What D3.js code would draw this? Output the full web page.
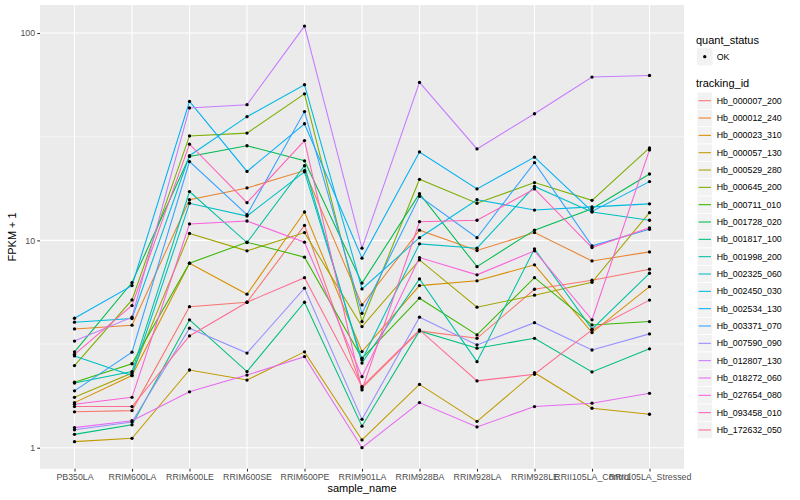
<!DOCTYPE html>
<html>
<head>
<meta charset="utf-8">
<script src="https://cdn.jsdelivr.net/npm/d3@7"></script>
<style>
  body { margin: 0; background: #fff; }
  text { font-family: "Liberation Sans", Arial, sans-serif; }
</style>
</head>
<body>
<div id="chart"></div>
<script>
// categories on the x axis
var samples = ["PB350LA", "RRIM600LA", "RRIM600LE", "RRIM600SE", "RRIM600PE", "RRIM901LA",
               "RRIM928BA", "RRIM928LA", "RRIM928LE", "RRII105LA_Control", "RRII105LA_Stressed"];

var trackingIds = ["Hb_000007_200", "Hb_000012_240", "Hb_000023_310", "Hb_000057_130", "Hb_000529_280",
                   "Hb_000645_200", "Hb_000711_010", "Hb_001728_020", "Hb_001817_100", "Hb_001998_200",
                   "Hb_002325_060", "Hb_002450_030", "Hb_002534_130", "Hb_003371_070", "Hb_007590_090",
                   "Hb_012807_130", "Hb_018272_060", "Hb_027654_080", "Hb_093458_010", "Hb_172632_050"];

// FPKM + 1, one value per sample
var hb_000007_200 = [1.49, 1.51, 4.79, 5.03, 11.8, 1.94, 3.66, 3.37, 5.81, 6.42, 7.26];
var hb_000012_240 = [3.74, 3.90, 15.7, 17.9, 21.7, 4.88, 11.2, 8.93, 10.9, 7.96, 8.80];
var hb_000023_310 = [1.65, 2.23, 7.76, 5.50, 13.7, 2.91, 6.05, 6.38, 7.62, 3.59, 5.98];
var hb_000057_130 = [1.07, 1.11, 2.37, 2.12, 2.90, 1.09, 2.02, 1.34, 2.30, 1.55, 1.45];
var hb_000529_280 = [1.75, 2.29, 10.8, 8.90, 10.9, 3.84, 8.05, 4.76, 5.44, 6.28, 13.6];
var hb_000645_200 = [2.49, 5.16, 31.9, 32.9, 50.9, 4.06, 19.7, 15.1, 19.0, 15.6, 27.9];
var hb_000711_010 = [2.07, 2.54, 7.76, 9.80, 8.30, 2.70, 5.26, 3.50, 6.61, 3.91, 4.06];
var hb_001728_020 = [2.90, 6.26, 25.4, 28.6, 24.2, 6.22, 16.8, 7.47, 11.2, 14.2, 20.9];
var hb_001817_100 = [1.16, 1.29, 4.14, 2.33, 5.03, 1.27, 3.66, 3.02, 3.37, 2.32, 3.00];
var hb_001998_200 = [2.05, 2.33, 17.2, 9.76, 22.9, 2.56, 6.52, 2.60, 9.10, 3.73, 6.94];
var hb_002325_060 = [2.77, 2.23, 15.1, 13.1, 21.4, 2.65, 9.62, 9.17, 18.2, 13.7, 12.5];
var hb_002450_030 = [4.03, 4.20, 25.6, 39.5, 56.3, 5.83, 10.3, 15.7, 14.0, 14.5, 15.0];
var hb_002534_130 = [4.21, 6.05, 46.8, 21.5, 36.5, 8.21, 26.7, 17.7, 25.2, 13.8, 19.2];
var hb_003371_070 = [1.88, 2.89, 24.0, 13.3, 41.8, 4.45, 16.3, 10.3, 23.7, 9.41, 11.3];
var hb_007590_090 = [1.22, 1.33, 3.77, 2.86, 5.88, 1.37, 4.26, 3.13, 4.01, 2.96, 3.54];
var hb_012807_130 = [3.27, 4.26, 43.5, 45.1, 108, 9.17, 57.8, 27.6, 40.8, 61.3, 62.4];
var hb_018272_060 = [1.25, 1.35, 1.86, 2.24, 2.75, 1.00, 1.65, 1.26, 1.58, 1.64, 1.83];
var hb_027654_080 = [1.62, 1.75, 12.0, 12.4, 9.80, 2.20, 8.26, 6.82, 8.90, 4.14, 27.3];
var hb_093458_010 = [2.82, 4.85, 29.1, 15.2, 30.3, 1.90, 12.3, 12.5, 17.7, 9.23, 11.5];
var hb_172632_050 = [1.58, 1.58, 3.46, 5.03, 6.61, 1.97, 3.70, 2.10, 2.26, 3.70, 5.15];

var yTicks = [1, 10, 100];

// ggplot default hue palette for 20 levels
var colours = ["#F8766D", "#EA8331", "#D89000", "#C09B00", "#A3A500", "#7CAE00", "#39B600", "#00BB4E",
               "#00BF7D", "#00C1A3", "#00BFC4", "#00BAE0", "#00B0F6", "#35A2FF", "#9590FF", "#C77CFF",
               "#E76BF3", "#FA62DB", "#FF62BC", "#FF6C91"];

var values = [hb_000007_200, hb_000012_240, hb_000023_310, hb_000057_130, hb_000529_280,
              hb_000645_200, hb_000711_010, hb_001728_020, hb_001817_100, hb_001998_200,
              hb_002325_060, hb_002450_030, hb_002534_130, hb_003371_070, hb_007590_090,
              hb_012807_130, hb_018272_060, hb_027654_080, hb_093458_010, hb_172632_050];

var series = trackingIds.map(function(id, i) {
  return { id: id, colour: colours[i],
           points: samples.map(function(s, j) { return { sample: s, value: values[i][j] }; }) };
});

// panel box
var panel = {left: 40, right: 684, top: 5, bottom: 468.8};

var svg = d3.select("#chart")
  .append("svg")
  .attr("width", 800)
  .attr("height", 500);

var x = d3.scalePoint()
    .domain(samples)
    .range([panel.left, panel.right])
    .padding(0.6);

var all = d3.merge(values);
var lo = Math.log10(d3.min(all)), hi = Math.log10(d3.max(all)), pad = (hi - lo) * 0.05;
var y = d3.scaleLog()
    .domain([Math.pow(10, lo - pad), Math.pow(10, hi + pad)])
    .range([panel.bottom, panel.top]);

// background
svg.append("rect")
  .attr("x", panel.left).attr("y", panel.top)
  .attr("width", panel.right - panel.left).attr("height", panel.bottom - panel.top)
  .attr("fill", "#EBEBEB");

// minor grid (half decades)
var minor = yTicks.map(function(t) { return t * Math.sqrt(10); })
  .filter(function(t) { return t > y.domain()[0] && t < y.domain()[1]; });
svg.append("g").selectAll("line").data(minor).enter().append("line")
  .attr("x1", panel.left).attr("x2", panel.right)
  .attr("y1", function(d) { return y(d); }).attr("y2", function(d) { return y(d); })
  .attr("stroke", "#fff").attr("stroke-width", 0.53);

svg.append("g").selectAll("line").data(yTicks).enter().append("line")
  .attr("x1", panel.left).attr("x2", panel.right)
  .attr("y1", function(d) { return y(d); }).attr("y2", function(d) { return y(d); })
  .attr("stroke", "#fff").attr("stroke-width", 1.07);

svg.append("g").selectAll("line").data(samples).enter().append("line")
  .attr("y1", panel.top).attr("y2", panel.bottom)
  .attr("x1", function(d) { return x(d); }).attr("x2", function(d) { return x(d); })
  .attr("stroke", "#fff").attr("stroke-width", 1.07);

// lines
var line = d3.line()
  .x(function(d) { return x(d.sample); })
  .y(function(d) { return y(d.value); });

svg.append("g").selectAll("path").data(series).enter().append("path")
  .attr("d", function(d) { return line(d.points); })
  .attr("fill", "none")
  .attr("stroke", function(d) { return d.colour; })
  .attr("stroke-width", 1.07);

// points
svg.append("g").selectAll("g").data(series).enter().append("g")
  .selectAll("circle").data(function(d) { return d.points; }).enter().append("circle")
  .attr("cx", function(d) { return x(d.sample); })
  .attr("cy", function(d) { return y(d.value); })
  .attr("r", 1.65)
  .attr("fill", "#000");

// axes
var yAxis = svg.append("g")
  .attr("transform", "translate(" + panel.left + ",0)")
  .call(d3.axisLeft(y).tickValues(yTicks).tickFormat(d3.format("d")).tickSize(2.75).tickPadding(2.2));
var xAxis = svg.append("g")
  .attr("transform", "translate(0," + panel.bottom + ")")
  .call(d3.axisBottom(x).tickSize(2.75).tickPadding(2.2));

[yAxis, xAxis].forEach(function(a) {
  a.select(".domain").remove();
  a.selectAll(".tick line").attr("stroke", "#333333").attr("stroke-width", 1.07);
  a.selectAll(".tick text").attr("fill", "#4D4D4D").style("font-size", "8.8px")
    .style("font-family", "'Liberation Sans', Arial, sans-serif");
});

// axis titles
svg.append("text")
  .attr("x", (panel.left + panel.right) / 2).attr("y", 492)
  .attr("text-anchor", "middle")
  .style("font-size", "11px")
  .text("sample_name");

svg.append("text")
  .attr("transform", "translate(16," + ((panel.top + panel.bottom) / 2) + ") rotate(-90)")
  .attr("text-anchor", "middle")
  .style("font-size", "11px")
  .text("FPKM + 1");

// legends
var legend = svg.append("g");
legend.append("text").attr("x", 696).attr("y", 44).style("font-size", "11px").text("quant_status");
legend.append("rect").attr("x", 697).attr("y", 48.1).attr("width", 15.5).attr("height", 17.3).attr("fill", "#F2F2F2");
legend.append("circle").attr("cx", 704.75).attr("cy", 56.7).attr("r", 1.65).attr("fill", "#000");
legend.append("text").attr("x", 716.7).attr("y", 56.7).attr("dy", "0.35em").style("font-size", "8.8px").text("OK");

legend.append("text").attr("x", 696).attr("y", 86.5).style("font-size", "11px").text("tracking_id");

var keys = legend.selectAll("g.key").data(series).enter().append("g")
  .attr("class", "key")
  .attr("transform", function(d, i) { return "translate(697," + (100.7 + i * 17.33) + ")"; });
keys.append("rect").attr("x", 0).attr("y", -8.66).attr("width", 15.5).attr("height", 17.33)
  .attr("fill", "#F2F2F2").attr("stroke", "#fff").attr("stroke-width", 0.8);
keys.append("line").attr("x1", 1.5).attr("x2", 14).attr("y1", 0).attr("y2", 0)
  .attr("stroke", function(d) { return d.colour; }).attr("stroke-width", 1.07);
keys.append("text").attr("x", 19.7).attr("y", 0).attr("dy", "0.35em")
  .style("font-size", "8.8px").text(function(d) { return d.id; });
</script>
</body>
</html>
